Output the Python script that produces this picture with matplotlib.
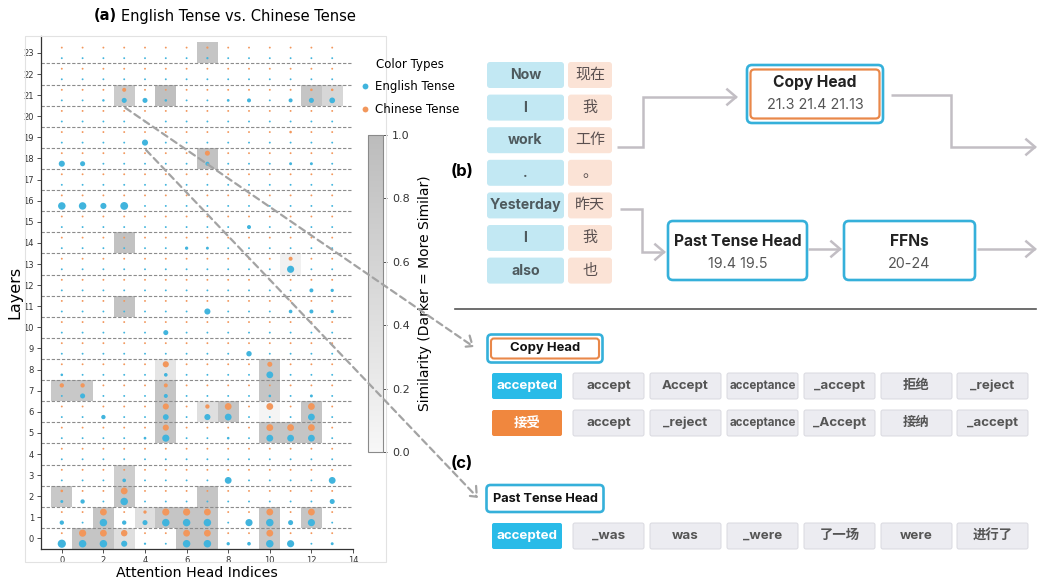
import numpy as np
import matplotlib
matplotlib.use("Agg")
import matplotlib.pyplot as plt
from matplotlib.colors import LinearSegmentedColormap
from matplotlib.patches import FancyBboxPatch, Rectangle, FancyArrowPatch, ConnectionPatch
from matplotlib.path import Path
from matplotlib.lines import Line2D

N_LAYERS = 24
N_HEADS = 14

# (layer, head, strength) of heads attending to the English tense token
english_hits = [
    (23, 7, 0.05),
    (21, 2, 0.08), (21, 3, 0.45), (21, 4, 0.45), (21, 5, 0.1), (21, 8, 0.12),
    (21, 9, 0.3), (21, 11, 0.3), (21, 12, 0.45), (21, 13, 0.55),
    (19, 4, 0.6),
    (18, 0, 0.6), (18, 1, 0.45), (18, 7, 0.3), (18, 11, 0.15), (18, 12, 0.15),
    (16, 0, 0.8), (16, 1, 0.8), (16, 2, 0.6), (16, 3, 0.85),
    (15, 9, 0.3),
    (14, 6, 0.2), (14, 7, 0.15),
    (13, 11, 0.75),
    (12, 12, 0.3), (12, 13, 0.2),
    (11, 7, 0.6), (11, 11, 0.25), (11, 12, 0.3), (11, 13, 0.2),
    (10, 5, 0.45),
    (9, 9, 0.5),
    (8, 0, 0.1), (8, 5, 0.25), (8, 10, 0.7),
    (7, 1, 0.45), (7, 5, 0.3), (7, 10, 0.1), (7, 12, 0.15),
    (6, 2, 0.35), (6, 5, 0.55), (6, 7, 0.6), (6, 8, 0.7), (6, 12, 0.7),
    (5, 4, 0.12), (5, 5, 0.75), (5, 8, 0.1), (5, 10, 0.7), (5, 11, 0.7), (5, 12, 0.7),
    (3, 3, 0.25), (3, 8, 0.7), (3, 13, 0.7),
    (2, 0, 0.15), (2, 1, 0.35), (2, 3, 0.8), (2, 13, 0.45),
    (1, 0, 0.35), (1, 2, 0.8), (1, 3, 0.35), (1, 4, 0.45), (1, 5, 0.8), (1, 6, 0.8),
    (1, 7, 0.8), (1, 9, 0.75), (1, 10, 0.8), (1, 11, 0.45), (1, 12, 0.75),
    (0, 0, 0.9), (0, 1, 0.8), (0, 2, 0.8), (0, 3, 0.6), (0, 4, 0.05), (0, 6, 0.8),
    (0, 7, 0.8), (0, 8, 0.2), (0, 9, 0.25), (0, 10, 0.8), (0, 11, 0.75), (0, 13, 0.15),
]

# (layer, head, strength) of heads attending to the Chinese tense token
chinese_hits = [
    (23, 7, 0.05),
    (21, 3, 0.3), (21, 12, 0.1), (21, 13, 0.1),
    (19, 11, 0.1),
    (18, 7, 0.45),
    (13, 11, 0.3),
    (8, 5, 0.6), (8, 10, 0.45),
    (7, 0, 0.35), (7, 1, 0.35), (7, 5, 0.3),
    (6, 5, 0.6), (6, 7, 0.35), (6, 8, 0.7), (6, 10, 0.7), (6, 12, 0.7),
    (5, 5, 0.6), (5, 10, 0.7), (5, 11, 0.7), (5, 12, 0.7),
    (2, 0, 0.1), (2, 3, 0.7),
    (1, 2, 0.7), (1, 4, 0.2), (1, 5, 0.75), (1, 6, 0.75), (1, 7, 0.7), (1, 10, 0.7), (1, 12, 0.7),
    (0, 1, 0.75), (0, 2, 0.7), (0, 3, 0.65), (0, 6, 0.7), (0, 7, 0.7), (0, 10, 0.7),
]

# (layer, head, similarity) between the two attention patterns
similar_cells = [
    (23, 7, 0.85),
    (21, 3, 0.75), (21, 5, 0.95), (21, 12, 0.85), (21, 13, 0.55),
    (18, 7, 0.9),
    (14, 3, 0.9),
    (13, 11, 0.1),
    (11, 3, 0.88),
    (8, 5, 0.3), (8, 10, 0.8),
    (7, 0, 0.8), (7, 1, 0.8), (7, 5, 0.85), (7, 10, 0.85),
    (6, 5, 0.85), (6, 7, 0.4), (6, 8, 0.85), (6, 10, 0.05), (6, 12, 0.85),
    (5, 5, 0.85), (5, 10, 0.85), (5, 11, 0.85), (5, 12, 0.85),
    (3, 3, 0.7),
    (2, 0, 0.8), (2, 3, 0.85), (2, 7, 0.85),
    (1, 2, 0.85), (1, 4, 0.4), (1, 5, 0.85), (1, 6, 0.85), (1, 7, 0.85), (1, 10, 0.85), (1, 12, 0.85),
    (0, 1, 0.85), (0, 2, 0.85), (0, 3, 0.4), (0, 6, 0.85), (0, 7, 0.85), (0, 10, 0.8),
]

# tokens for the circuit diagram
sent_en = ["Now", "I", "work", ".", "Yesterday", "I", "also"]
sent_zh = ["现在", "我", "工作", "。", "昨天", "我", "也"]
copy_heads = "21.3 21.4 21.13"
past_heads = "19.4 19.5"
ffn_layers = "20-24"
copy_en_tokens = ["accept", "Accept", "acceptance", "_accept", "拒绝", "_reject"]
copy_zh_tokens = ["accept", "_reject", "acceptance", "_Accept", "接纳", "_accept"]
past_tokens = ["_was", "was", "_were", "了一场", "were", "进行了"]

BLUE = "#41b4dd"
ORANGE = "#f2975c"
BOX_BLUE = "#35b0da"
BOX_ORANGE = "#e9884a"
ARROW_GRAY = "#c2bec4"
DIAG_FONT = ["Inter", "Noto Sans CJK SC"]

W, H = 1040, 582
fig = plt.figure(figsize=(W / 100, H / 100), dpi=100)


def fx(px):
    return px / W


def fy(py):
    return 1 - py / H


# ---------------- (a) heatmap + dots ----------------
ax = fig.add_axes([fx(41), fy(549), fx(353 - 41), (549 - 36) / H])

sim = np.full((N_LAYERS, N_HEADS), np.nan)
for l, h, v in similar_cells:
    sim[l, h] = v
cmap = LinearSegmentedColormap.from_list("sim_grey", ["#f7f7f7", "#bcbcbc"])
mesh = ax.pcolormesh(np.arange(-0.5, N_HEADS), np.arange(-0.5, N_LAYERS), sim,
                     cmap=cmap, vmin=0, vmax=1, zorder=1)

for y in np.arange(0.5, N_LAYERS - 1, 1):
    ax.axhline(y, color="#8c8c8c", lw=0.8, ls=(0, (3, 1.6)), zorder=2)

eng = np.zeros((N_LAYERS, N_HEADS))
zh = np.zeros((N_LAYERS, N_HEADS))
for l, h, v in english_hits:
    eng[l, h] = v
for l, h, v in chinese_hits:
    zh[l, h] = v

heads, layers = np.meshgrid(np.arange(N_HEADS), np.arange(N_LAYERS))


def dot_size(score):
    return ((1.9 + 7.0 * score) * 0.72) ** 2


ax.scatter(heads.ravel(), layers.ravel() - 0.25, s=dot_size(eng.ravel()),
           color=BLUE, lw=0, zorder=3)
ax.scatter(heads.ravel(), layers.ravel() + 0.25, s=dot_size(zh.ravel()),
           color=ORANGE, lw=0, zorder=3)

ax.set_xlim(-1, 14)
ax.set_ylim(-0.5, 23.8)
ax.set_xticks(np.arange(0, 15, 2))
ax.set_yticks(np.arange(0, N_LAYERS))
ax.tick_params(labelsize=6, length=3, width=0.6, colors="#333333", pad=2)
for side in ("top", "right"):
    ax.spines[side].set_visible(False)
for side in ("left", "bottom"):
    ax.spines[side].set_linewidth(0.9)
    ax.spines[side].set_color("#333333")
ax.set_xlabel("Attention Head Indices", fontsize=10.2, labelpad=1)
ax.set_ylabel("Layers", fontsize=11.5, labelpad=1)

cax = fig.add_axes([fx(368), fy(452), fx(15), (452 - 135) / H])
cb = fig.colorbar(mesh, cax=cax)
cb.set_ticks([0, 0.2, 0.4, 0.6, 0.8, 1.0])
cb.ax.tick_params(labelsize=8, length=3, width=0.6, colors="#333333")
cb.outline.set_edgecolor("#8a8a8a")
cb.outline.set_linewidth(0.8)
cb.set_label("Similarity (Darker = More Similar)", fontsize=10, labelpad=6)

handles = [Line2D([], [], ls="none", marker="o", ms=4.2, mec="none", color=BLUE),
           Line2D([], [], ls="none", marker="o", ms=4.2, mec="none", color=ORANGE)]
fig.legend(handles, ["English Tense", "Chinese Tense"], title="Color Types",
           loc="upper left", bbox_to_anchor=(fx(361), fy(58)), frameon=False,
           fontsize=8.5, title_fontsize=8.5, handlelength=0.7, handletextpad=0.45,
           labelspacing=0.8, borderpad=0, borderaxespad=0)

fig.text(fx(117), fy(16), "(a)", fontsize=10.5, weight="bold", ha="right", va="center")
fig.text(fx(121), fy(16), "English Tense vs. Chinese Tense", fontsize=10.5,
         ha="left", va="center")

# ---------------- (b)/(c) diagram on a pixel overlay ----------------
ov = fig.add_axes([0, 0, 1, 1])
ov.set_xlim(0, W)
ov.set_ylim(H, 0)
ov.axis("off")
ov.set_zorder(5)

ov.add_patch(Rectangle((25, 36), 361, 526, fill=False, ec="#e2e2e2", lw=0.8))


def box(x, y, w, h, fc="none", ec="none", lw=0.0, r=3):
    ov.add_patch(FancyBboxPatch((x, y), w, h, boxstyle=f"round,pad=0,rounding_size={r}",
                                fc=fc, ec=ec, lw=lw))


def label(x, y, s, size=9.5, weight="bold", color="#222222"):
    ov.text(x, y, s, fontsize=size, weight=weight, color=color, ha="center",
            va="center", family=DIAG_FONT)


def arrow(points):
    ov.add_patch(FancyArrowPatch(path=Path(points), arrowstyle="->,head_length=7,head_width=6",
                                 mutation_scale=1, color=ARROW_GRAY, lw=1.8,
                                 shrinkA=0, shrinkB=0, joinstyle="miter", capstyle="butt"))


# sentence tokens
for i, (en, zh_tok) in enumerate(zip(sent_en, sent_zh)):
    top = 62 + i * 32.6
    box(487, top, 77, 26, fc="#c2e8f3")
    box(568, top, 44, 26, fc="#fbe3d6")
    label(525.5, top + 13, en, size=10.2, color="#4e5a5e")
    label(590, top + 13, zh_tok, size=10.8, weight="normal", color="#5a5050")

ov.text(462, 172, "(b)", fontsize=12, weight="bold", ha="center", va="center", family=DIAG_FONT)
ov.text(462, 464, "(c)", fontsize=12, weight="bold", ha="center", va="center", family=DIAG_FONT)

# head boxes
box(747, 65, 136, 58, fc="white", ec=BOX_BLUE, lw=1.9, r=5)
box(750.5, 69.5, 129, 49, fc="white", ec=BOX_ORANGE, lw=1.6, r=4)
label(815, 82, "Copy Head", size=11.2)
label(815, 105, copy_heads, size=10.3, weight="normal", color="#555555")

box(668, 221, 139, 59, fc="white", ec=BOX_BLUE, lw=1.9, r=5)
label(737.5, 241, "Past Tense Head", size=11.2)
label(737.5, 264, past_heads, size=10.3, weight="normal", color="#555555")

box(844, 221, 131, 59, fc="white", ec=BOX_BLUE, lw=1.9, r=5)
label(909.5, 241, "FFNs", size=11.2)
label(909.5, 264, ffn_layers, size=10.3, weight="normal", color="#555555")

arrow([(617, 147), (643, 147), (643, 97), (738, 97)])
arrow([(891, 95), (951, 95), (951, 147), (1037, 147)])
arrow([(620, 209), (642, 209), (642, 252), (666, 252)])
arrow([(808, 249), (842, 249)])
arrow([(977, 249), (1037, 249)])

ov.plot([455, 1036], [309, 309], color="#555555", lw=1.2)

# (c) copy head decoding
box(487.5, 334.5, 115, 28, fc="white", ec=BOX_BLUE, lw=1.9, r=4)
box(491, 338.5, 108, 20, fc="white", ec=BOX_ORANGE, lw=1.5, r=3)
label(545, 348.5, "Copy Head", size=9.4, color="#111111")

col_x = [573, 650, 727, 804, 881, 957]


def token_row(top, head_tok, head_color, tokens):
    box(492, top, 70, 26, fc=head_color, r=2)
    label(527, top + 13, head_tok, size=9.6, color="white")
    for x, tok in zip(col_x, tokens):
        box(x, top, 71, 26, fc="#ececf1", ec="#d9d9df", lw=0.7, r=2)
        size = 8.3 if len(tok) > 8 else 9.6
        label(x + 35.5, top + 13, tok, size=size, color="#555555")


token_row(373, "accepted", "#29bbe8", copy_en_tokens)
token_row(410, "接受", "#f0873e", copy_zh_tokens)

box(486.5, 485, 117, 27, fc="white", ec=BOX_BLUE, lw=1.9, r=4)
label(545, 498.5, "Past Tense Head", size=9.2, color="#111111")
token_row(523, "accepted", "#29bbe8", past_tokens)

# dashed pointers from the heads in (a) to their decodings in (c)
for (h, l), target in [((3, 21), (474, 347)), ((4, 19), (478, 498))]:
    con = ConnectionPatch(xyA=(h + 0.05, l - 0.25 - 0.35), coordsA=ax.transData,
                          xyB=target, coordsB=ov.transData,
                          arrowstyle="->,head_length=6,head_width=5", mutation_scale=1,
                          color="#a3a3a3", lw=1.6, ls=(0, (3, 2)), shrinkA=0, shrinkB=0)
    con.set_zorder(6)
    fig.add_artist(con)

fig.savefig("out.png", dpi=100)
